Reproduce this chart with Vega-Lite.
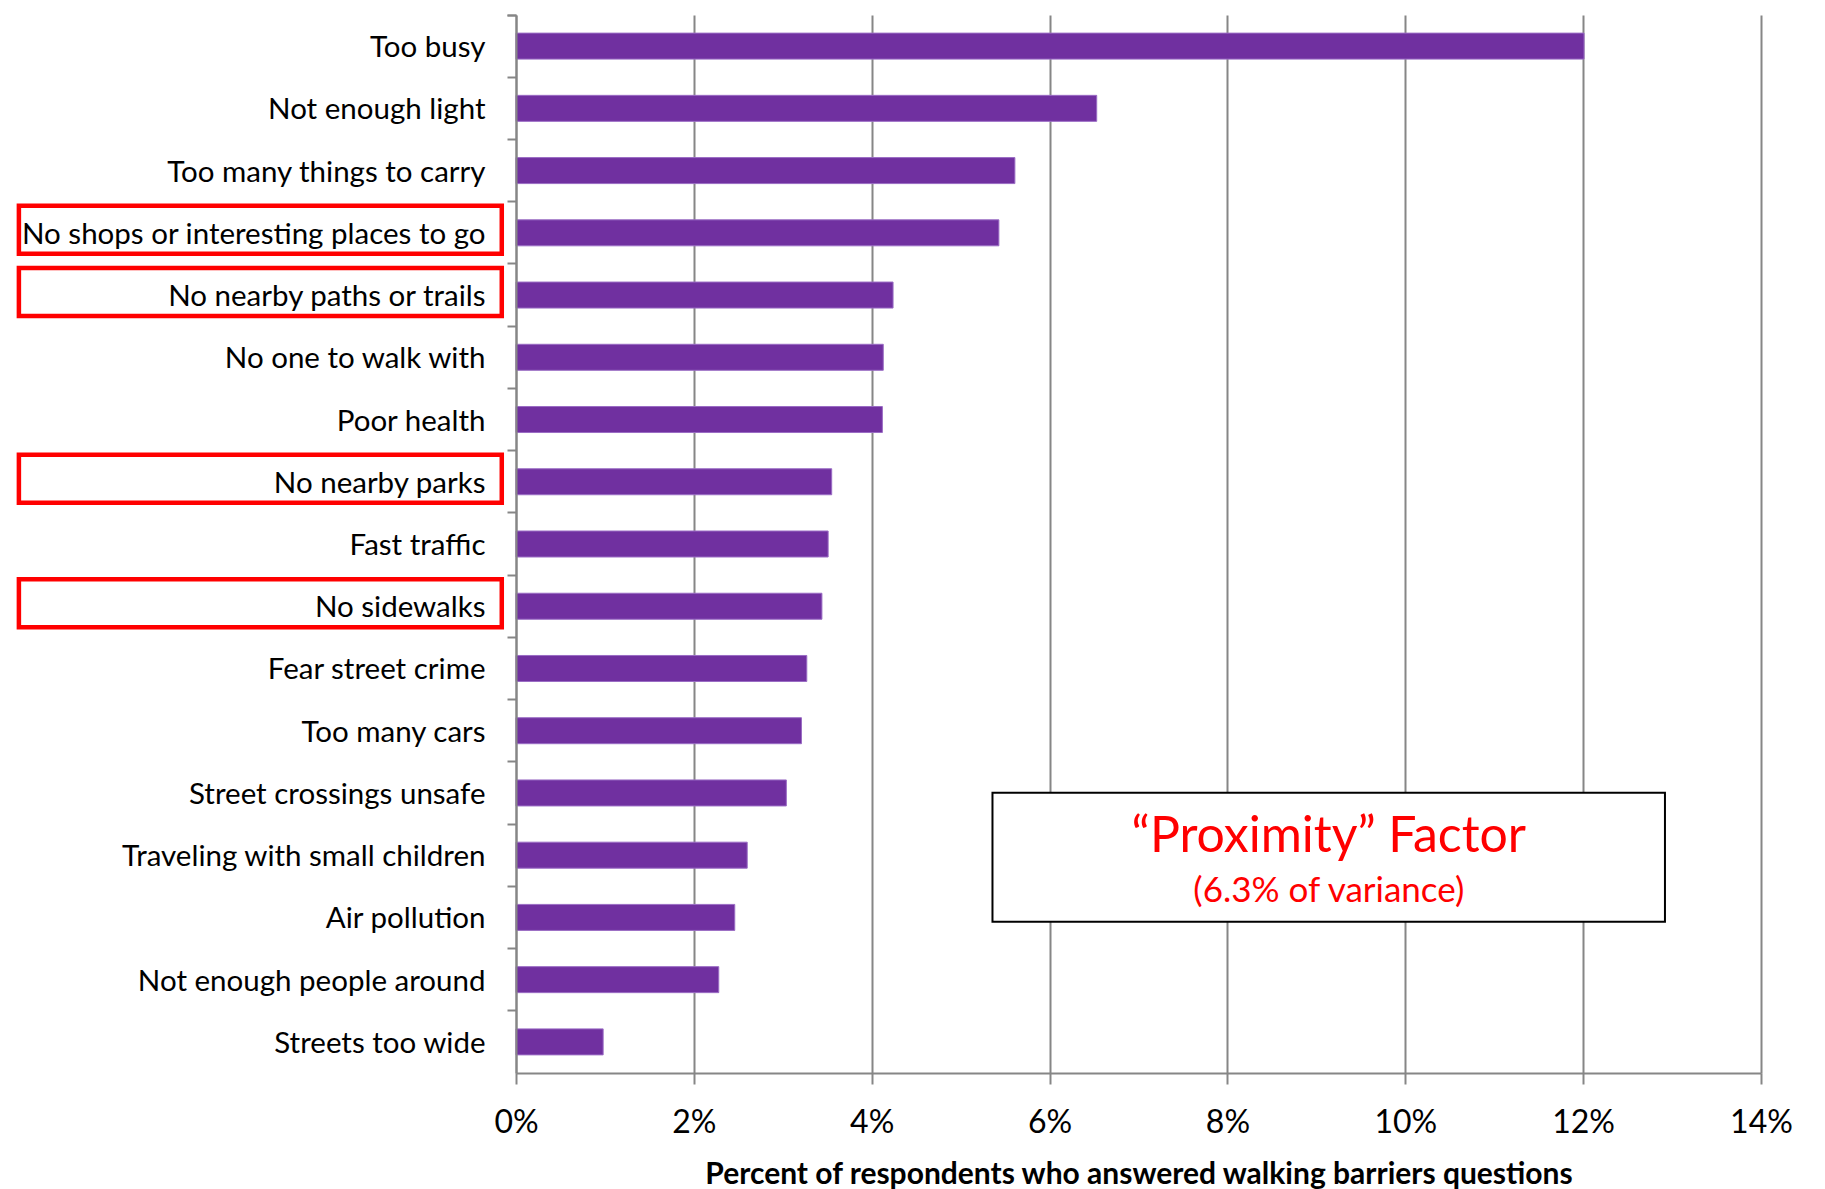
{
  "$schema": "https://vega.github.io/schema/vega-lite/v6.json",
  "width": 1245,
  "height": 1058,
  "autosize": {"type": "none"},
  "padding": {"left": 516, "top": 15, "right": 64, "bottom": 116},
  "background": "white",
  "config": {"view": {"stroke": null}, "font": "Lato"},
  "data": {
    "values": [
      {"barrier": "Too busy", "pct": 0.1201, "factor": ""},
      {"barrier": "Not enough light", "pct": 0.0653, "factor": ""},
      {"barrier": "Too many things to carry", "pct": 0.0561, "factor": ""},
      {"barrier": "No shops or interesting places to go", "pct": 0.0543, "factor": "Proximity"},
      {"barrier": "No nearby paths or trails", "pct": 0.0424, "factor": "Proximity"},
      {"barrier": "No one to walk with", "pct": 0.0413, "factor": ""},
      {"barrier": "Poor health", "pct": 0.0412, "factor": ""},
      {"barrier": "No nearby parks", "pct": 0.0355, "factor": "Proximity"},
      {"barrier": "Fast traffic", "pct": 0.0351, "factor": ""},
      {"barrier": "No sidewalks", "pct": 0.0344, "factor": "Proximity"},
      {"barrier": "Fear street crime", "pct": 0.0327, "factor": ""},
      {"barrier": "Too many cars", "pct": 0.0321, "factor": ""},
      {"barrier": "Street crossings unsafe", "pct": 0.0304, "factor": ""},
      {"barrier": "Traveling with small children", "pct": 0.0260, "factor": ""},
      {"barrier": "Air pollution", "pct": 0.0246, "factor": ""},
      {"barrier": "Not enough people around", "pct": 0.0228, "factor": ""},
      {"barrier": "Streets too wide", "pct": 0.0098, "factor": ""}
    ]
  },
  "layer": [
    {
      "mark": {"type": "bar", "color": "#7030A0", "stroke": "#9A6CC4", "strokeWidth": 1, "height": 26},
      "encoding": {
        "y": {
          "field": "barrier",
          "type": "nominal",
          "sort": null,
          "scale": {"paddingInner": 0, "paddingOuter": 0},
          "axis": {
            "title": null,
            "labelFont": "Lato",
            "labelFontSize": 29.5,
            "labelColor": "black",
            "labelPadding": 22,
            "labelOffset": 2,
            "labelLimit": 0,
            "tickSize": 9,
            "tickColor": "#868686",
            "tickWidth": 2,
            "domainColor": "#868686",
            "domainWidth": 2,
            "bandPosition": 0,
            "tickExtra": true,
            "zindex": 1
          }
        },
        "x": {
          "field": "pct",
          "type": "quantitative",
          "scale": {"domain": [0, 0.14], "nice": false},
          "axis": {
            "values": [0, 0.02, 0.04, 0.06, 0.08, 0.1, 0.12, 0.14],
            "format": ".0%",
            "grid": true,
            "gridColor": "#868686",
            "gridWidth": 2,
            "tickSize": 11,
            "tickColor": "#868686",
            "tickWidth": 2,
            "domainColor": "#868686",
            "domainWidth": 2,
            "labelFont": "Lato",
            "labelFontSize": 32,
            "labelColor": "black",
            "labelPadding": 23,
            "labelFlush": false,
            "labelOverlap": false,
            "title": "Percent of respondents who answered walking barriers questions",
            "titleFont": "Lato",
            "titleFontSize": 30,
            "titleFontWeight": "bold",
            "titleColor": "black",
            "titlePadding": 21
          }
        }
      }
    },
    {
      "transform": [{"filter": "datum.factor === 'Proximity'"}],
      "mark": {"type": "bar", "fill": "transparent", "stroke": "#FF0000", "strokeWidth": 4.5, "height": 48, "yOffset": -3, "clip": false},
      "encoding": {
        "y": {"field": "barrier", "type": "nominal", "sort": null},
        "x": {"datum": -0.0559, "type": "quantitative"},
        "x2": {"datum": -0.0016}
      }
    },
    {
      "data": {"values": [{"title": "“Proximity” Factor", "subtitle": "(6.3% of variance)"}]},
      "layer": [
        {
          "mark": {"type": "bar", "fill": "white", "stroke": "black", "strokeWidth": 2, "height": 129, "yOffset": 2},
          "encoding": {
            "y": {"datum": "Traveling with small children", "type": "nominal"},
            "x": {"datum": 0.05358, "type": "quantitative"},
            "x2": {"datum": 0.1292}
          }
        },
        {
          "mark": {"type": "text", "color": "#FF0000", "font": "Lato", "fontSize": 50, "align": "center", "baseline": "alphabetic", "dy": -3},
          "encoding": {
            "y": {"datum": "Traveling with small children", "type": "nominal"},
            "x": {"datum": 0.0914, "type": "quantitative"},
            "text": {"field": "title"}
          }
        },
        {
          "mark": {"type": "text", "color": "#FF0000", "font": "Lato", "fontSize": 35, "align": "center", "baseline": "alphabetic", "dy": 47},
          "encoding": {
            "y": {"datum": "Traveling with small children", "type": "nominal"},
            "x": {"datum": 0.0914, "type": "quantitative"},
            "text": {"field": "subtitle"}
          }
        }
      ]
    }
  ]
}
